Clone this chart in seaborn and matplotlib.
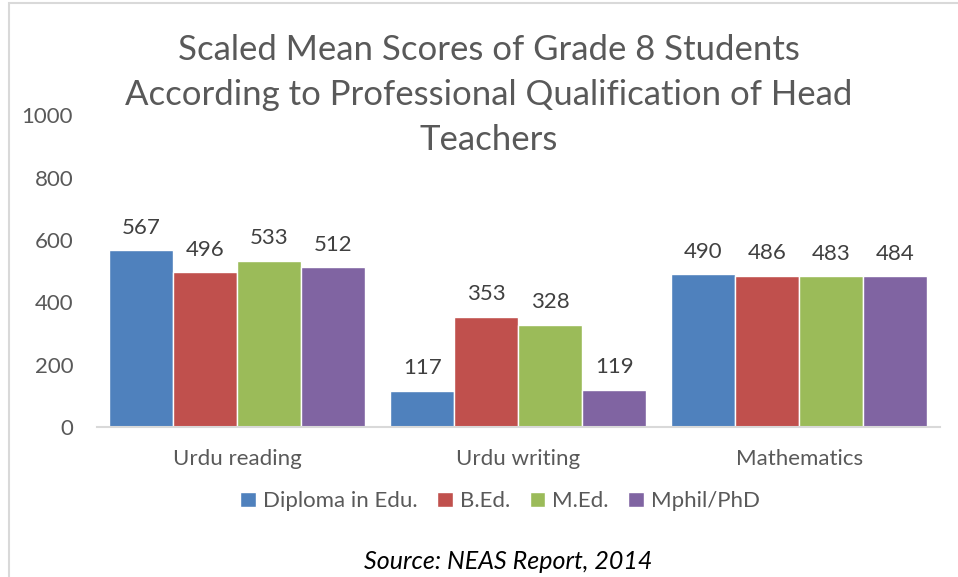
import pandas as pd
import matplotlib
matplotlib.use('Agg')
import matplotlib.pyplot as plt
import seaborn as sns

# chart data
subjects = ['Urdu reading', 'Urdu writing', 'Mathematics']
qualifications = ['Diploma in Edu.', 'B.Ed.', 'M.Ed.', 'Mphil/PhD']
diploma = [567, 117, 490]
bed = [496, 353, 486]
med = [533, 328, 483]
mphil = [512, 119, 484]
colors = ['#4F81BD', '#C0504D', '#9BBB59', '#8064A2']

rows = []
for q, vals in zip(qualifications, [diploma, bed, med, mphil]):
    for s, v in zip(subjects, vals):
        rows.append({'Subject': s, 'Qualification': q, 'Score': v})
df = pd.DataFrame(rows)

sns.set_theme(style='white')
plt.rcParams['font.family'] = ['Lato', 'DejaVu Sans']
grey = '#595959'

fig = plt.figure(figsize=(9.58, 5.77), dpi=100)
ax = fig.add_axes([0.101, 0.26, 0.88, 0.54])

sns.barplot(data=df, x='Subject', y='Score', hue='Qualification', order=subjects,
            hue_order=qualifications, palette=colors, saturation=1, width=0.91,
            edgecolor='white', linewidth=1, ax=ax, legend=True)

for c in ax.containers:
    ax.bar_label(c, padding=9, fontsize=16, color='#404040')

ax.set_ylim(0, 1000)
ax.set_yticks(range(0, 1001, 200))
ax.set_xlabel('')
ax.set_ylabel('')
ax.tick_params(axis='both', length=0, labelsize=16, labelcolor=grey)
ax.tick_params(axis='x', pad=16)
ax.tick_params(axis='y', pad=17)
for side in ['top', 'right', 'left']:
    ax.spines[side].set_visible(False)
ax.spines['bottom'].set_color('#D9D9D9')
ax.spines['bottom'].set_linewidth(1.5)

handles, labels = ax.get_legend_handles_labels()
ax.get_legend().remove()
fig.legend(handles, labels, loc='center', bbox_to_anchor=(0.522, 0.131), ncol=4,
           frameon=False, fontsize=16, handlelength=0.7, handleheight=0.7,
           handletextpad=0.3, columnspacing=0.9, labelcolor=grey)

fig.text(0.51, 0.835, 'Scaled Mean Scores of Grade 8 Students\nAccording to Professional Qualification of Head\nTeachers',
         ha='center', va='center', fontsize=25, color=grey, linespacing=1.5)
fig.text(0.53, 0.027, 'Source: NEAS Report, 2014', ha='center', va='center',
         fontsize=18, style='italic', color='black')

# light border of the chart area
fig.patches.append(plt.Rectangle((9 / 958, -0.1), 1.2, 1.1 - 3 / 577, transform=fig.transFigure,
                                 fill=False, edgecolor='#D9D9D9', linewidth=1.5))

fig.savefig('out.png', dpi=100)
